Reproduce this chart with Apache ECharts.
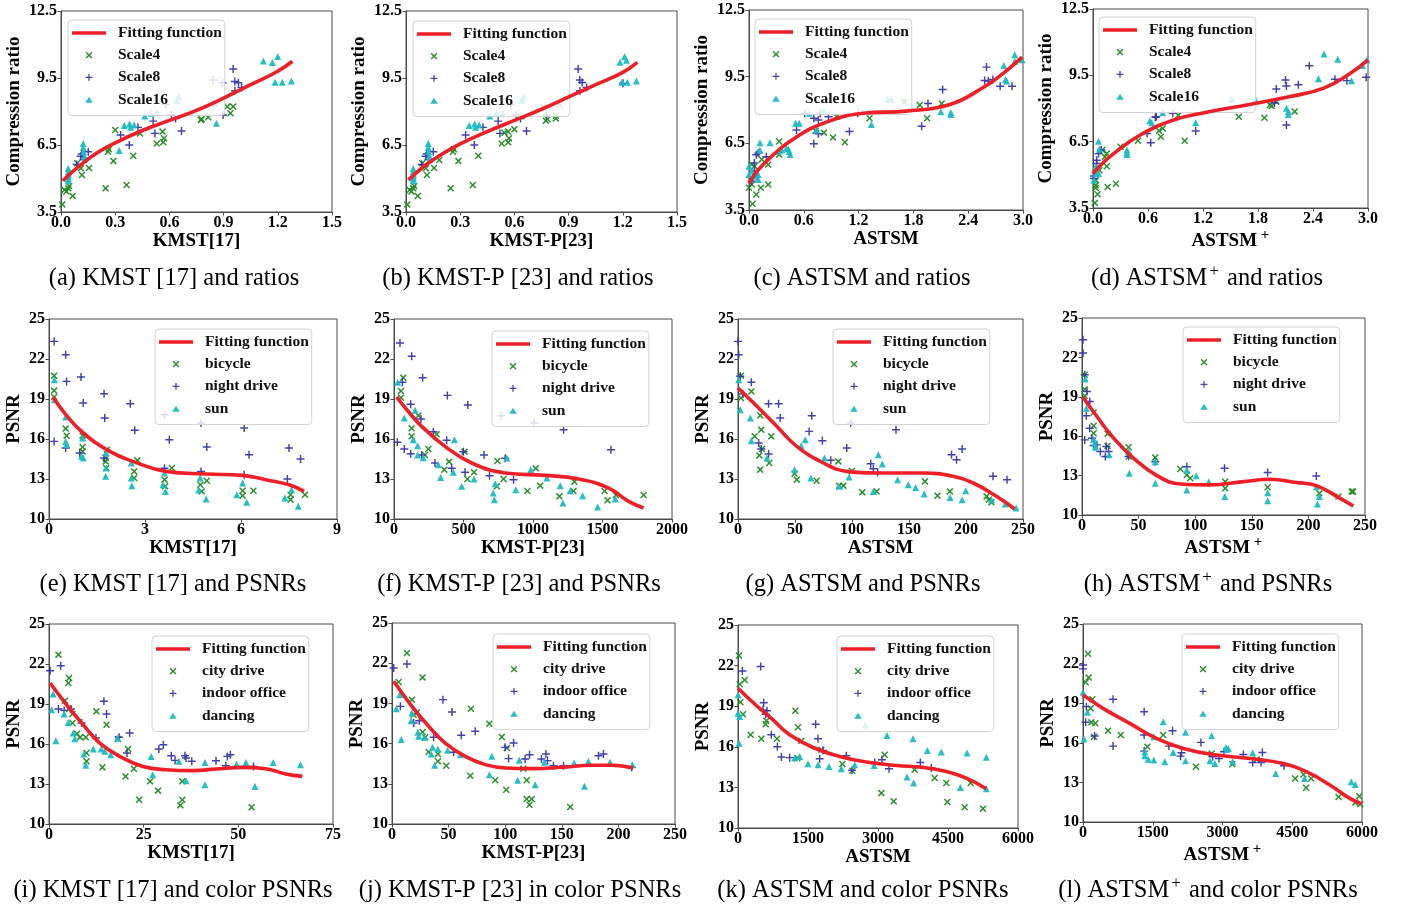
<!DOCTYPE html>
<html><head><meta charset="utf-8">
<script src="https://cdn.jsdelivr.net/npm/echarts@6/dist/echarts.min.js"></script>
<style>html,body{margin:0;padding:0;background:#fff}#c{width:1403px;height:909px}</style>
</head><body><div id="c"></div>
<script>
// ---------- (a) KMST[17] vs compression ratio ----------
const a_s4 = [[0.007,3.84],[0.02,4.49],[0.04,4.56],[0.045,4.66],[0.03,4.42],[0.065,4.22],[0.116,5.16],[0.11,5.46],[0.155,5.47],[0.09,5.68],[0.247,4.56],[0.363,4.71],[0.29,5.78],[0.26,6.2],[0.265,6.31],[0.30,7.17],[0.40,6.02],[0.437,7.02],[0.53,6.57],[0.566,6.62],[0.562,7.1],[0.57,6.8],[0.778,7.66],[0.815,7.74],[0.774,7.62],[0.938,7.92],[0.953,8.22],[0.92,8.22],[0.853,8.34]];
const a_s8 = [[0.087,5.63],[0.109,6.0],[0.115,6.1],[0.151,6.2],[0.125,5.85],[0.33,6.95],[0.378,6.5],[0.426,7.29],[0.51,7.57],[0.52,7.02],[0.58,8.32],[0.61,7.84],[0.634,7.69],[0.667,7.13],[0.897,7.84],[0.953,9.9],[0.962,9.34],[0.982,9.29],[0.963,8.93],[1.0,9.08],[0.842,9.41],[0.894,9.29]];
const a_s16 = [[0.04,4.9],[0.04,5.0],[0.04,5.1],[0.04,5.2],[0.04,5.3],[0.04,5.45],[0.123,6.57],[0.123,6.4],[0.125,6.2],[0.13,6.0],[0.13,5.85],[0.322,6.25],[0.35,7.37],[0.38,7.44],[0.385,7.29],[0.405,7.4],[0.464,7.8],[0.5,7.92],[0.533,7.95],[0.64,8.5],[0.652,8.66],[0.86,7.47],[1.12,10.26],[1.17,10.19],[1.2,10.46],[1.185,9.31],[1.225,9.31],[1.275,9.37]];
const a_fit = [[0.01,4.9],[0.1,5.55],[0.2,6.15],[0.3,6.6],[0.45,7.15],[0.6,7.6],[0.75,8.05],[0.9,8.6],[1.05,9.2],[1.2,9.8],[1.28,10.25]];
// ---------- (b) KMST-P[23] vs compression ratio ----------
const b_s4 = [[0.007,3.84],[0.02,4.49],[0.04,4.56],[0.045,4.66],[0.03,4.42],[0.065,4.22],[0.116,5.16],[0.11,5.46],[0.155,5.47],[0.09,5.68],[0.184,5.83],[0.247,4.56],[0.37,4.71],[0.29,5.78],[0.26,6.2],[0.265,6.31],[0.40,6.02],[0.53,6.57],[0.566,6.62],[0.545,7.05],[0.565,7.1],[0.6,7.2],[0.57,6.8],[0.783,7.65],[0.774,7.59],[0.829,7.81],[0.829,7.69],[0.76,8.2],[0.85,8.3]];
const b_s8 = [[0.087,5.63],[0.109,6.0],[0.115,6.1],[0.151,6.2],[0.125,5.85],[0.33,6.95],[0.378,6.5],[0.426,7.29],[0.51,7.57],[0.52,7.02],[0.58,8.32],[0.61,7.84],[0.634,7.69],[0.667,7.13],[0.778,7.84],[0.953,9.9],[0.962,9.41],[0.975,9.3],[0.963,8.93],[1.0,9.08],[1.201,9.26]];
const b_s16 = [[0.04,4.9],[0.04,5.0],[0.04,5.1],[0.04,5.2],[0.04,5.3],[0.04,5.45],[0.123,6.57],[0.123,6.4],[0.125,6.2],[0.13,6.0],[0.13,5.85],[0.35,7.37],[0.38,7.44],[0.385,7.29],[0.405,7.4],[0.464,7.8],[0.5,7.92],[0.533,7.95],[0.64,8.5],[0.652,8.66],[1.185,10.2],[1.21,10.46],[1.22,10.3],[1.195,9.31],[1.225,9.31],[1.275,9.37]];
const b_fit = [[0.013,4.93],[0.1,5.55],[0.2,6.1],[0.3,6.55],[0.45,7.1],[0.6,7.6],[0.75,8.1],[0.9,8.65],[1.05,9.2],[1.2,9.75],[1.28,10.2]];
// ---------- (c) ASTSM vs compression ratio ----------
const c_s4 = [[0,4.5],[0.03,4.65],[0.04,3.78],[0.08,4.2],[0.13,4.5],[0.21,4.65],[0.03,5.55],[0.06,5.47],[0.14,5.77],[0.21,5.55],[0.08,5.17],[0.33,6.58],[0.33,5.99],[0.73,7.06],[0.82,6.98],[0.92,6.76],[0.96,7.7],[1.05,6.55],[1.32,7.63],[1.7,8.36],[1.87,8.22],[1.95,7.63],[2.11,8.29]];
const c_s8 = [[0.03,4.8],[0.04,4.95],[0.06,5.62],[0.08,5.99],[0.1,6.06],[0.06,5.24],[0.19,5.9],[0.52,7.1],[0.61,7.85],[0.71,7.63],[0.76,7.55],[0.78,7.85],[0.71,6.48],[0.76,6.93],[0.87,7.7],[1.1,7.03],[1.19,7.85],[1.89,7.27],[1.96,8.29],[2.12,8.92],[2.58,9.33],[2.6,9.93],[2.67,9.37],[2.75,9.07],[2.88,9.07],[2.62,9.3]];
const c_s16 = [[0,5.1],[0.03,5.25],[0,5.47],[0.08,5.02],[0.1,4.87],[0.1,5.1],[0.12,6.53],[0.12,6.2],[0.23,6.53],[0.32,6.13],[0.36,6.2],[0.41,6.28],[0.44,6.13],[0.43,6.25],[0.45,6.0],[0.51,7.4],[0.55,7.4],[0.66,7.85],[0.74,7.1],[0.82,7.95],[1.34,7.35],[1.52,8.48],[1.56,8.48],[2.1,7.92],[2.21,7.89],[2.21,7.8],[2.79,10.0],[2.81,9.37],[2.82,9.31],[2.91,10.49],[2.91,10.19],[2.99,10.26]];
const c_fit = [[0,4.7],[0.08,5.2],[0.19,5.69],[0.445,6.58],[0.81,7.4],[1.25,7.85],[1.72,7.95],[2.2,8.25],[2.56,9.0],[2.78,9.64],[2.99,10.38]];
// ---------- (d) ASTSM+ vs compression ratio ----------
const d_s4 = [[0.02,3.73],[0.05,4.12],[0.03,4.41],[0.03,4.53],[0.03,4.76],[0.16,4.45],[0.25,4.6],[0.15,5.39],[0.13,5.81],[0.15,5.96],[0.1,6.12],[0.07,5.21],[0.3,6.27],[0.49,6.54],[0.74,6.72],[0.72,6.99],[0.76,7.1],[0.93,7.7],[1.0,6.54],[1.59,7.63],[1.87,7.58],[1.93,8.16],[1.95,8.11],[2.0,8.31],[2.2,7.86]];
const d_s8 = [[0.01,4.83],[0.01,4.95],[0.04,5.51],[0.04,5.66],[0.06,5.96],[0.09,6.12],[0.59,6.87],[0.63,6.45],[0.68,7.6],[0.69,7.63],[0.87,7.78],[1.12,6.98],[1.98,8.25],[2.11,7.25],[2.1,9.29],[2.11,9.02],[2.0,8.88],[2.24,9.07],[2.36,9.93],[2.64,9.32],[2.77,9.26],[2.98,9.41]];
const d_s16 = [[0.01,4.76],[0.03,5.06],[0.04,5.21],[0.06,5.06],[0.06,6.52],[0.07,6.16],[0.03,5.39],[0.37,6.12],[0.37,6.0],[0.37,5.92],[0.62,7.45],[0.64,7.36],[0.76,7.81],[1.12,7.36],[1.51,8.42],[1.77,8.43],[2.11,8.01],[2.13,7.86],[2.13,7.73],[2.46,9.35],[2.52,10.46],[2.67,10.23],[2.82,9.26],[2.94,9.94],[2.99,10.2]];
const d_fit = [[0,5.06],[0.1,5.5],[0.225,5.96],[0.515,6.8],[0.88,7.48],[1.24,7.83],[1.68,8.16],[2.15,8.54],[2.51,8.91],[2.8,9.57],[3.0,10.2]];
// ---------- (e) KMST[17] vs PSNR ----------
const e_bic = [[0.16,20.75],[0.16,19.63],[0.16,19.15],[0.52,16.78],[0.55,16.25],[1.05,16.25],[1.05,15.4],[1.05,15.07],[1.77,14.57],[1.77,14.32],[1.79,13.82],[1.81,15.2],[2.66,13.57],[2.66,13.07],[2.76,14.4],[3.61,12.95],[3.63,12.45],[3.84,13.82],[4.73,12.57],[4.77,12.07],[4.93,12.87],[6.05,12.12],[6.05,11.75],[6.39,12.12],[7.55,11.82],[7.55,11.45],[8.0,11.82]];
const e_night = [[0.16,23.32],[0.16,15.82],[0.52,22.32],[0.55,20.32],[0.52,15.32],[1.0,20.65],[1.07,18.7],[0.96,14.95],[1.72,19.4],[1.74,17.57],[1.72,14.57],[2.54,18.65],[2.68,16.65],[3.61,17.82],[3.61,13.8],[3.76,15.95],[4.75,17.2],[4.75,13.57],[4.93,15.4],[6.1,16.82],[6.1,13.32],[6.25,14.82],[7.5,15.32],[7.45,13.0],[7.86,14.5]];
const e_sun = [[0.17,20.45],[0.17,18.95],[0.52,17.65],[0.52,15.82],[0.55,15.57],[1.05,16.07],[1.02,14.7],[1.07,14.57],[1.77,13.2],[1.79,13.82],[1.79,14.95],[2.57,14.2],[2.57,13.07],[2.59,12.5],[3.56,12.57],[3.64,12.07],[3.61,13.45],[4.72,13.07],[4.68,12.2],[4.91,11.5],[5.87,11.82],[6.05,12.7],[6.18,11.25],[7.37,11.57],[7.58,12.2],[7.79,10.95]];
const e_fit = [[0.13,19.15],[0.5,17.9],[1.07,16.45],[1.9,15.07],[2.62,14.32],[3.66,13.57],[4.9,13.37],[6.05,13.27],[6.77,12.95],[7.5,12.57],[7.97,12.07]];
// ---------- (f) KMST-P[23] vs PSNR ----------
const f_bic = [[50,19.1],[50,19.6],[67,20.6],[127,16.8],[127,16.2],[175,17.75],[223,14.8],[247,15.25],[307,16.35],[396,14.3],[362,13.7],[507,15.05],[528,13.0],[576,13.5],[744,14.35],[740,12.45],[788,13.0],[960,12.1],[1020,13.8],[1052,12.5],[1190,11.7],[1291,12.1],[1298,12.8],[1515,12.1],[1536,11.4],[1596,11.8],[1796,11.8]];
const f_night = [[24,15.75],[43,23.2],[60,20.25],[74,15.25],[120,18.6],[127,22.2],[120,14.9],[199,14.8],[206,20.6],[194,17.5],[283,16.55],[295,14.2],[379,15.9],[384,19.27],[415,13.8],[499,15.05],[511,13.5],[531,18.55],[648,14.8],[687,13.25],[771,17.75],[800,14.55],[860,12.95],[1008,17.2],[1220,16.7],[1561,15.2]];
const f_sun = [[26,20.25],[74,17.57],[151,18.15],[170,15.5],[139,15.95],[170,14.8],[211,14.6],[319,14.07],[336,13.12],[427,13.5],[435,15.95],[487,12.45],[576,13.0],[714,11.95],[722,11.45],[728,12.65],[876,12.2],[984,13.7],[812,14.57],[1100,13.07],[1196,12.5],[1215,11.2],[1268,12.12],[1357,11.75],[1465,10.9],[1592,11.5]];
const f_fit = [[19,19.15],[100,18.1],[199,16.95],[367,15.45],[559,14.2],[800,13.45],[1088,13.27],[1328,13.0],[1544,12.32],[1688,11.32],[1796,10.82]];
// ---------- (g) ASTSM vs PSNR ----------
const g_bic = [[2.6,20.75],[2.6,19.07],[11.7,19.57],[14.6,16.2],[19.5,17.77],[20.4,16.7],[18.7,14.77],[19.5,13.7],[21,15.25],[27.4,14.2],[29.2,16.2],[49.6,13.4],[51.6,12.95],[69,12.87],[88,14.32],[88.7,12.5],[92.5,12.5],[99.8,13.6],[109,12.0],[121.6,12.07],[164,12.82],[175,11.75],[185.8,12.07],[218,11.7],[220,11.45],[222.3,11.25]];
const g_night = [[0,23.32],[0.6,22.32],[2,20.7],[4.4,19.37],[11.7,20.25],[18.1,15.7],[20.4,15.25],[26.8,14.87],[26.8,18.65],[35.6,18.65],[37,17.57],[62.4,16.57],[64.7,17.75],[74,15.87],[81.4,14.4],[95.4,15.32],[98.9,17.2],[116.4,14.15],[118.7,13.77],[122.5,13.5],[138.6,16.7],[187.3,14.82],[196.6,15.25],[191.7,14.45],[223.7,13.2],[236,12.95]];
const g_sun = [[0.6,20.45],[2,18.2],[10.8,17.57],[11.7,15.87],[25.4,14.57],[49.6,13.7],[55.4,15.5],[59,15.95],[64,13.07],[75.8,14.57],[89,12.45],[97.4,13.15],[118.7,12.07],[123.1,14.82],[126.6,14.12],[140,12.95],[149.4,12.57],[155.8,12.37],[163.4,11.87],[186,11.62],[196.6,11.45],[199.8,12.12],[222.3,11.45],[234.5,11.12],[244,10.82]];
const g_fit = [[0,19.82],[16.6,18.45],[34,16.95],[51.6,15.45],[75,14.2],[95.4,13.57],[121.6,13.45],[162.5,13.45],[188.7,13.2],[206.4,12.7],[226.7,11.7],[242.7,10.75]];
// ---------- (h) ASTSM+ vs PSNR ----------
const h_bic = [[2.4,20.68],[2.4,19.58],[2.4,19.08],[10.3,17.8],[10.3,16.79],[10.3,16.23],[22.6,16.18],[22.6,15.26],[41.2,15.16],[41.2,14.45],[64.7,14.37],[86.8,13.5],[92.6,13.05],[95.6,12.8],[126.5,12.54],[126.5,12.03],[164,12.11],[209.7,11.65],[226.5,11.4],[238.2,11.78],[239.5,11.78]];
const h_night = [[0.9,23.35],[0.9,22.33],[2.4,20.68],[4.4,19.4],[6.8,18.64],[3.8,17.55],[6.8,16.6],[2.4,15.72],[8.8,15.85],[10.3,15.29],[13.2,15.34],[16.2,14.83],[20.6,14.45],[21.5,15.21],[23.5,14.83],[41.2,14.45],[64.7,14.06],[92.6,13.68],[125.9,13.56],[164,13.23],[207,12.97]];
const h_sun = [[2.9,20.35],[3.8,18.13],[10.3,15.77],[11.2,15.47],[11.8,15.16],[24.1,14.58],[41.2,14.83],[41.8,13.18],[64.7,14.06],[64.7,12.41],[92.6,13.43],[92.6,11.91],[100.9,12.99],[112,12.54],[126.2,11.4],[164,11.7],[164,11.09],[207,12.16],[208,10.84],[209.7,11.4]];
const h_fit = [[0.9,18.97],[13.2,17.5],[27.9,15.85],[45.6,14.32],[66.2,13.0],[86.8,12.36],[113,12.29],[142.6,12.54],[166,12.72],[189.7,12.47],[207,12.24],[228,11.27],[239.7,10.69]];
// ---------- (i) KMST[17] vs color PSNR ----------
const i_city = [[2.5,22.7],[5.3,20.95],[5.1,20.57],[4.2,19.25],[5.3,18.62],[6.2,18.25],[6.2,17.57],[7.4,16.77],[8.2,16.5],[9.7,16.5],[9.9,15.32],[9.9,14.7],[12.5,18.45],[14.1,14.25],[15.2,17.45],[18.2,16.37],[20.9,15.62],[20.2,13.57],[22.4,14.15],[23.8,11.82],[26.7,13.2],[28.8,12.5],[34.7,11.4],[35.2,11.82],[35.2,13.2],[53.5,11.25]];
const i_office = [[0.3,21.5],[3.1,21.87],[2.5,18.62],[4,18.52],[5.8,18.62],[8.6,17.57],[12.4,16.45],[14.5,19.2],[15.2,18.25],[18.5,16.5],[20.6,15.32],[21.3,16.82],[29,15.62],[30.2,15.95],[32.3,15.12],[33.3,14.77],[35.9,15.12],[36.2,14.95],[37.7,14.7],[44.1,14.75],[46.7,14.37],[47.1,15.07],[47.9,15.2],[54,14.32]];
const i_dance = [[0.7,18.57],[1.1,19.75],[1.8,16.25],[4,18.25],[5.1,17.62],[6.4,16.82],[6.8,16.4],[9.2,15.25],[9.7,14.4],[11.7,15.62],[13.8,15.62],[14.7,15.45],[16.3,15.2],[18.1,16.45],[27,15.07],[27.4,13.7],[34.3,14.7],[36.2,13.25],[41.2,14.62],[41.2,12.95],[49.5,14.5],[52,14.62],[54.4,12.82],[59.2,14.62],[66.4,14.45]];
const i_fit = [[0.3,20.57],[4.6,18.95],[9,17.45],[13.4,16.07],[18.7,15.07],[24.8,14.32],[30.9,14.07],[37.9,14.0],[44.1,14.12],[51.1,14.25],[57.2,14.15],[62.5,13.75],[66.9,13.57]];
// ---------- (j) KMST-P[23] vs color PSNR ----------
const j_city = [[5.9,20.6],[13.2,22.76],[17.6,19.28],[22,18.33],[19.1,18.16],[27,20.94],[27,16.87],[29.4,16.47],[32.4,15.37],[40.6,15.22],[40.6,14.68],[47.9,14.35],[69.7,18.6],[69.1,13.6],[86,17.49],[91.2,13.26],[97,16.5],[101.5,15.67],[100.9,12.56],[116,14.13],[119,13.26],[119,11.87],[121.5,11.44],[123.5,11.87],[157.4,11.27]];
const j_office = [[1.5,21.64],[13.2,21.94],[7.4,18.78],[19.1,17.54],[24.1,17.71],[36.8,16.47],[45,19.28],[53,18.36],[54.4,15.35],[61.2,16.62],[73.5,16.92],[100,15.72],[103,14.88],[107.4,16.05],[117.6,14.85],[121.5,15.17],[132,14.85],[136,15.22],[137.4,14.73],[142.6,14.35],[151.5,14.35],[182.4,15.1],[186.8,15.22],[211.8,14.23]];
const j_dance = [[3.8,18.6],[6.8,19.65],[8.2,16.3],[17,17.71],[17.6,18.28],[22.9,16.85],[23.5,16.55],[28.5,16.47],[34.7,15.22],[35.9,15.72],[37.6,14.38],[40.6,15.6],[49.1,15.5],[60.3,15.17],[86,13.68],[88.2,15.05],[111,13.26],[112.4,14.75],[126.5,12.93],[134.7,14.6],[160.9,14.55],[170,12.81],[173.5,14.68],[192.6,14.6],[212.4,14.43]];
const j_fit = [[1.5,20.65],[17.6,18.78],[32.4,17.29],[47,16.04],[64.7,15.05],[82.4,14.43],[100,14.18],[123.5,14.13],[150,14.23],[176.5,14.38],[194,14.38],[213,14.18]];
// ---------- (k) ASTSM vs color PSNR ----------
const k_city = [[21,22.74],[36,20.62],[50,19.3],[107,18.41],[143,20.94],[271,16.89],[500,16.59],[593,17.67],[607,17.92],[836,16.59],[1229,18.66],[1271,15.17],[1286,17.45],[1357,16.44],[1786,15.78],[2236,14.72],[2450,14.23],[3071,12.58],[3143,15.41],[3336,11.97],[3786,14.3],[4214,13.69],[4464,13.32],[4486,11.92],[4857,11.53],[4986,13.32],[5250,11.43]];
const k_office = [[93,21.6],[486,21.93],[536,18.73],[550,19.26],[593,18.41],[621,18.66],[714,16.89],[843,16.0],[929,15.24],[1107,15.2],[1664,17.67],[1714,16.59],[1750,15.12],[1821,15.73],[2321,15.34],[2443,14.26],[2929,14.84],[3086,15.05],[3236,14.38],[3907,14.84],[4143,14.43]];
const k_dance = [[0,19.84],[0,18.48],[36,18.24],[21,16.27],[1214,15.17],[1321,15.29],[1500,14.75],[1714,14.67],[1950,14.55],[2214,14.38],[2500,14.67],[2729,17.62],[2914,14.62],[3193,16.84],[3621,13.76],[3764,13.32],[3750,16.59],[4057,15.73],[4357,15.61],[4764,13.0],[4907,15.54],[5321,15.22],[5321,12.9]];
const k_fit = [[0,20.33],[393,19.05],[750,17.99],[1107,16.89],[1607,15.95],[2179,15.29],[2750,14.87],[3393,14.62],[3964,14.48],[4464,14.18],[4893,13.69],[5321,12.9]];
// ---------- (l) ASTSM+ vs color PSNR ----------
const l_city = [[57,20.59],[108,22.75],[122,20.94],[165,18.61],[201,19.3],[180,17.55],[266,17.48],[237,16.46],[539,16.92],[812,16.59],[1386,15.7],[1724,16.59],[2428,14.18],[2766,15.19],[3211,14.38],[3736,14.74],[4562,13.3],[4741,13.6],[4799,12.59],[4907,13.3],[5496,11.9],[5855,11.47],[5941,11.95],[5963,11.34]];
const l_office = [[0,21.9],[0,21.6],[72,18.74],[57,17.55],[251,16.51],[647,19.3],[647,15.75],[1315,18.35],[1315,16.59],[1315,15.37],[1846,15.75],[1925,16.92],[2098,14.99],[2119,15.24],[2536,16.03],[2787,14.94],[2924,14.81],[3032,15.32],[3448,15.12],[3649,14.51],[3829,14.51],[3857,15.27],[4325,14.26]];
const l_dance = [[0,19.83],[22,16.28],[93,18.31],[1329,15.32],[1329,15.02],[1401,14.76],[1523,14.69],[1523,16.46],[1724,17.6],[1760,14.56],[1940,15.27],[2205,16.79],[2205,14.64],[2730,14.64],[2766,16.54],[2837,14.43],[3074,15.65],[3089,15.52],[3125,15.57],[3218,14.56],[3649,15.24],[4145,13.67],[4763,13.29],[5769,13.04],[5855,12.84]];
const l_fit = [[0,19.63],[431,18.61],[1006,17.47],[1580,16.33],[2155,15.57],[2874,15.07],[3592,14.81],[4310,14.43],[4813,13.8],[5316,12.79],[5747,11.77],[5984,11.39]];

// ---------- labels ----------
const ratioNames = ['Scale4','Scale8','Scale16'];
const psnrNames = ['bicycle','night drive','sun'];
const colorNames = ['city drive','indoor office','dancing'];
const FIT = 'Fitting function';

const FONT = '"Liberation Serif","Times New Roman","DejaVu Serif",serif';
const GREEN = '#1f8a1f', BLUE = '#3636b0', CYAN = '#1cbac4', RED = '#ee1f26';
const P_X = 'path://M0,1.5L1.5,0L5,3.5L8.5,0L10,1.5L6.5,5L10,8.5L8.5,10L5,6.5L1.5,10L0,8.5L3.5,5Z';
const P_PLUS = 'path://M4.1,0H5.9V4.1H10V5.9H5.9V10H4.1V5.9H0V4.1H4.1Z';
const PAD = 'M-4.5,-4.5h0.01v0.01h-0.01Z M14.5,14.5h0.01v0.01h-0.01Z';
const L_X = P_X + PAD, L_PLUS = P_PLUS + PAD, L_TRI = 'path://M5,0.8L10.5,9.6H-0.5Z' + PAD;
const L_LINE = 'path://M0,0H34V3.6H0Z';

const ASP = '{n|ASTSM}{s| +}';
const panels = [
  {g:[61,11,271,201], x:[0,1.5,0.3,1], y:[3.5,12.5,3,1], xn:'KMST[17]', yn:'Compression ratio', yg:37.5, nm:ratioNames, pts:[a_s4,a_s8,a_s16], fit:a_fit, lg:[68,20], cap:'(a) KMST [17] and ratios', cx:174, cy:279},
  {g:[406,11,271,201], x:[0,1.5,0.3,1], y:[3.5,12.5,3,1], xn:'KMST-P[23]', yn:'Compression ratio', yg:37.5, nm:ratioNames, pts:[b_s4,b_s8,b_s16], fit:b_fit, lg:[413,21], cap:'(b) KMST-P [23] and ratios', cx:518, cy:279},
  {g:[749,10,274,200], x:[0,3,0.6,1], y:[3.5,12.5,3,1], xn:'ASTSM', yn:'Compression ratio', yg:37.5, nm:ratioNames, pts:[c_s4,c_s8,c_s16], fit:c_fit, lg:[755,19], cap:'(c) ASTSM and ratios', cx:862, cy:279},
  {g:[1093,9,275,199], x:[0,3,0.6,1], y:[3.5,12.5,3,1], xn:ASP, yn:'Compression ratio', yg:37.5, nm:ratioNames, pts:[d_s4,d_s8,d_s16], fit:d_fit, lg:[1099,17], cap:'(d) ASTSM{s|+} and ratios', cx:1207, cy:279},
  {g:[49,319,288,200], x:[0,9,3,0], y:[10,25,3,0], xn:'KMST[17]', yn:'PSNR', yg:25.5, nm:psnrNames, pts:[e_bic,e_night,e_sun], fit:e_fit, lg:[155,329], cap:'(e) KMST [17] and PSNRs', cx:173, cy:585},
  {g:[394,319,278,200], x:[0,2000,500,0], y:[10,25,3,0], xn:'KMST-P[23]', yn:'PSNR', yg:25.5, nm:psnrNames, pts:[f_bic,f_night,f_sun], fit:f_fit, lg:[492,331], cap:'(f) KMST-P [23] and PSNRs', cx:519, cy:585},
  {g:[738,319,285,200], x:[0,250,50,0], y:[10,25,3,0], xn:'ASTSM', yn:'PSNR', yg:25.5, nm:psnrNames, pts:[g_bic,g_night,g_sun], fit:g_fit, lg:[833,329], cap:'(g) ASTSM and PSNRs', cx:863, cy:585},
  {g:[1082,318,283,197], x:[0,250,50,0], y:[10,25,3,0], xn:ASP, yn:'PSNR', yg:25.5, nm:psnrNames, pts:[h_bic,h_night,h_sun], fit:h_fit, lg:[1183,327], cap:'(h) ASTSM{s|+} and PSNRs', cx:1208, cy:585},
  {g:[49,624,284,200], x:[0,75,25,0], y:[10,25,3,0], xn:'KMST[17]', yn:'PSNR', yg:25.5, nm:colorNames, pts:[i_city,i_office,i_dance], fit:i_fit, lg:[152,636], cap:'(i) KMST [17] and color PSNRs', cx:173, cy:891},
  {g:[392,623,283,201], x:[0,250,50,0], y:[10,25,3,0], xn:'KMST-P[23]', yn:'PSNR', yg:25.5, nm:colorNames, pts:[j_city,j_office,j_dance], fit:j_fit, lg:[493,634], cap:'(j) KMST-P [23] in color PSNRs', cx:520, cy:891},
  {g:[738,625,280,203], x:[0,6000,1500,0], y:[10,25,3,0], xn:'ASTSM', yn:'PSNR', yg:25.5, nm:colorNames, pts:[k_city,k_office,k_dance], fit:k_fit, lg:[837,636], cap:'(k) ASTSM and color PSNRs', cx:863, cy:891},
  {g:[1083,624,279,198], x:[0,6000,1500,0], y:[10,25,3,0], xn:ASP, yn:'PSNR', yg:25.5, nm:colorNames, pts:[l_city,l_office,l_dance], fit:l_fit, lg:[1182,634], cap:'(l) ASTSM{s|+} and color PSNRs', cx:1208, cy:891}
];

const grids = [], xAxes = [], yAxes = [], legends = [], series = [], graphics = [];
const axisTxt = {fontFamily: FONT, fontWeight: 'bold', fontSize: 16, color: '#000'};
const nameTxt = {fontFamily: FONT, fontWeight: 'bold', fontSize: 19, lineHeight: 19, color: '#000',
  rich: {n: {fontFamily: FONT, fontWeight: 'bold', fontSize: 19, color: '#000'},
         s: {fontFamily: FONT, fontWeight: 'bold', fontSize: 15, color: '#000', padding: [0, 0, 11, 0]}}};
const symbols = [P_X, P_PLUS, 'triangle'];
const lsyms = [L_X, L_PLUS, L_TRI];
const sizes = [7, 8, 7];
const colors = [GREEN, BLUE, CYAN];

panels.forEach((p, i) => {
  grids.push({left: p.g[0], top: p.g[1], width: p.g[2], height: p.g[3], show: true,
    borderColor: '#4a4a4a', borderWidth: 1, backgroundColor: 'transparent', containLabel: false, outerBoundsMode: 'none'});
  const axBase = (r) => ({
    type: 'value', gridIndex: i, min: r[0], max: r[1], interval: r[2],
    axisLine: {show: true, lineStyle: {color: '#4a4a4a', width: 1}},
    axisTick: {show: true, length: 3.5, lineStyle: {color: '#4a4a4a'}},
    splitLine: {show: false},
    axisLabel: Object.assign({margin: 3, formatter: v => (+v).toFixed(r[3]), showMinLabel: true, showMaxLabel: true}, axisTxt),
    nameLocation: 'middle', nameTextStyle: nameTxt
  });
  xAxes.push(Object.assign(axBase(p.x), {name: p.xn, nameGap: 18.5}));
  const ya = axBase(p.y); ya.axisLabel.margin = 4;
  yAxes.push(Object.assign(ya, {name: p.yn, nameGap: p.yg}));
  series.push({type: 'line', name: FIT, xAxisIndex: i, yAxisIndex: i, data: p.fit, smooth: 0.45,
    symbol: 'none', showSymbol: false, lineStyle: {color: RED, width: 3.6}, itemStyle: {color: RED}, z: 5, silent: true});
  p.pts.forEach((d, k) => {
    series.push({type: 'scatter', name: p.nm[k], xAxisIndex: i, yAxisIndex: i, data: d,
      symbol: symbols[k], symbolSize: sizes[k], itemStyle: {color: colors[k], opacity: 0.95}, z: 2 + k * 0.1, silent: true});
  });
  legends.push({
    left: p.lg[0], top: p.lg[1], orient: 'vertical', itemWidth: 34, itemHeight: 13, itemGap: 6.2,
    padding: [5, 3, 8, 4], backgroundColor: 'rgba(255,255,255,0.82)', borderColor: '#d2d2d2', borderWidth: 1, borderRadius: 4,
    selectedMode: false,
    textStyle: {fontFamily: FONT, fontWeight: 'bold', fontSize: 15.5, lineHeight: 13, color: '#111', padding: [0, 0, 0, 7]},
    data: [{name: FIT, icon: L_LINE}].concat(p.nm.map((n, k) => ({name: n, icon: lsyms[k]})))
  });
  graphics.push({type: 'text', x: p.cx, y: p.cy, style: {text: p.cap, fontFamily: FONT, fontSize: 24.5, fill: '#000',
    align: 'center', verticalAlign: 'middle',
    rich: {s: {fontFamily: FONT, fontSize: 17, fill: '#000', padding: [0, 2, 14, 2]}}}});
});

const chart = echarts.init(document.getElementById('c'), null, {renderer: 'canvas'});
chart.setOption({animation: false, backgroundColor: '#fff', grid: grids, xAxis: xAxes, yAxis: yAxes,
  legend: legends, series: series, graphic: graphics});
</script></body></html>
